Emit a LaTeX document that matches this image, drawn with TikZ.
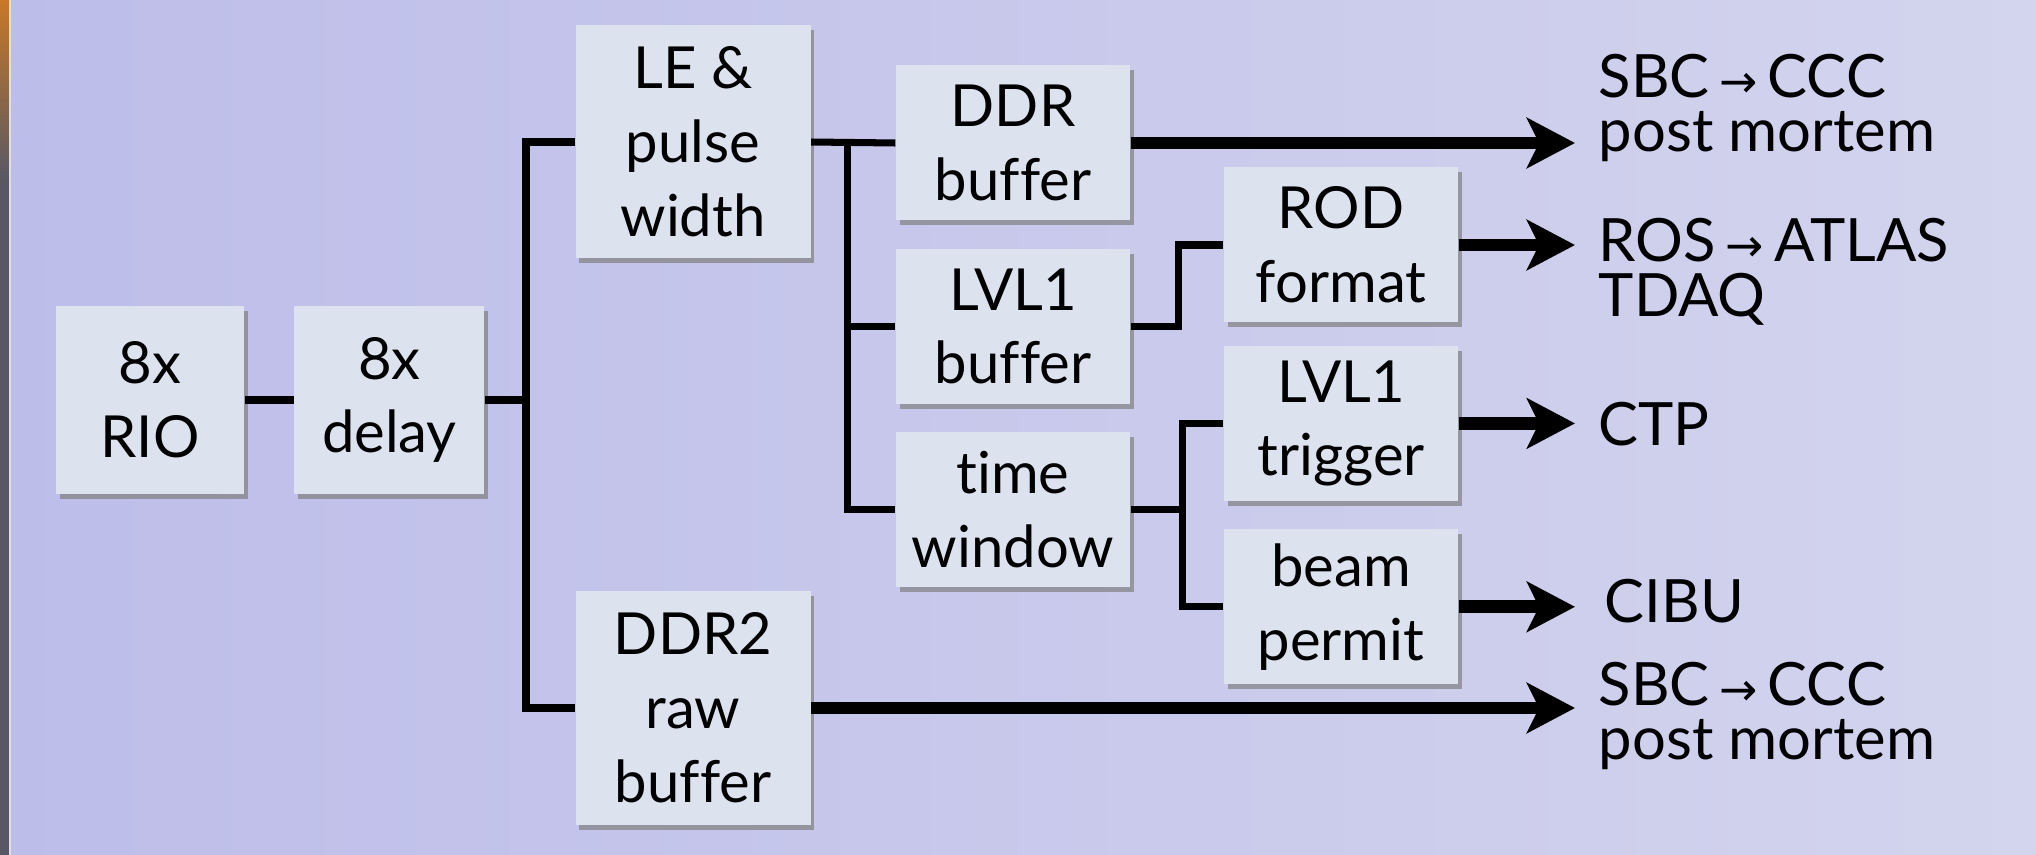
\documentclass[tikz,border=0pt]{standalone}
\usepackage{fontspec}
\setmainfont[Ligatures=NoCommon]{Lato}
\newfontfamily\symfont{DejaVu Sans}
\usepackage{tikz}
\usetikzlibrary{positioning,arrows.meta,shadows,calc}

\definecolor{bgleft}{RGB}{189,189,234}
\definecolor{bgright}{RGB}{211,212,237}
\definecolor{boxfill}{RGB}{220,226,238}
\definecolor{stripgray}{RGB}{88,88,100}
\definecolor{stripamber}{RGB}{200,120,40}
\newcommand{\tosym}{\,{\symfont\fontsize{13pt}{13pt}\selectfont →}\,}

\begin{document}
\begin{tikzpicture}[box/.style={fill=boxfill,rectangle,minimum width=2.34cm,minimum height=1.55cm,align=center,inner sep=0pt,font=\fontsize{16.5pt}{21pt}\selectfont,drop shadow={shadow xshift=0.035cm,shadow yshift=-0.05cm,opacity=0.7}},wire/.style={line width=2pt,line join=miter},arrow/.style={-{Stealth[length=0.48cm,width=0.5cm,inset=0.12cm]},line width=3.6pt},dest/.style={anchor=west,align=left,inner sep=0pt,font=\fontsize{17pt}{15.5pt}\selectfont},node distance=0.27cm]
% background
\useasboundingbox (0,0) rectangle (20.36,-8.55);
\shade[left color=bgleft,right color=bgright] (0,0) rectangle (20.36,-8.55);
\fill[stripgray] (0,0) rectangle (0.09,-8.55);
\shade[top color=stripamber,bottom color=stripgray] (0,0) rectangle (0.09,-1.8);
\fill[white!75!gray] (0.09,0) rectangle (0.11,-8.55);
% boxes
\node[box,minimum width=1.88cm,minimum height=1.87cm] (rio) at (1.50,-4.00) {8x\\RIO};
\node[box,minimum width=1.90cm,minimum height=1.87cm,right=0.49cm of rio] (delay) {8x\\delay};
\node[box,minimum width=2.35cm,minimum height=2.33cm] (le) at (6.93,-1.42) {LE \&\\pulse\\width};
\node[box,minimum width=2.35cm,minimum height=2.34cm] (raw) at (6.93,-7.08) {DDR2\\raw\\buffer};
\node[box] (ddr) at (10.13,-1.43) {DDR\\buffer};
\node[box,below=of ddr] (lvlbuf) {LVL1\\buffer};
\node[box,below=of lvlbuf] (twin) {time\\window};
\node[box] (rod) at (13.41,-2.45) {ROD\\format};
\node[box,below=0.22cm of rod] (trig) {LVL1\\trigger};
\node[box,below=of trig] (permit) {beam\\permit};
% destinations
\node[dest] (sbcA) at (15.98,-1.08) {SBC\tosym CCC\\post mortem};
\node[dest] (ros) at (15.98,-2.72) {ROS\tosym ATLAS\\TDAQ};
\node[dest] (ctp) at (15.98,-4.24) {CTP};
\node[dest] (cibu) at (16.04,-6.01) {CIBU};
\node[dest] (sbcB) at (15.98,-7.16) {SBC\tosym CCC\\post mortem};
% wiring
\coordinate (trunk) at (5.26,-4.00);
\coordinate (branch) at ($(le.east)!0.43!(ddr.west)$);
\coordinate (tsplit) at ($(twin.east)+(0.52,0)$);
\coordinate (outlet) at (15.75,0);
\draw[wire] (rio) -- (delay);
\draw[wire] (delay) -- (trunk);
\draw[wire] (le.west) -| (trunk) |- (raw.west);
\draw[wire] (le.east) -- (ddr.west);
\draw[wire] (branch) |- (twin.west);
\draw[wire] (branch |- lvlbuf.west) -- (lvlbuf.west);
\draw[wire] (lvlbuf.east) -- ++(0.48,0) |- (rod.west);
\draw[wire] (twin.east) -- (tsplit);
\draw[wire] (trig.west) -| (tsplit) |- (permit.west);
% outputs
\draw[arrow] (ddr.east) -- (ddr.east -| outlet);
\draw[arrow] (rod.east) -- (rod.east -| outlet);
\draw[arrow] (trig.east) -- (trig.east -| outlet);
\draw[arrow] (permit.east) -- (permit.east -| outlet);
\draw[arrow] (raw.east) -- (raw.east -| outlet);
\end{tikzpicture}
\end{document}
